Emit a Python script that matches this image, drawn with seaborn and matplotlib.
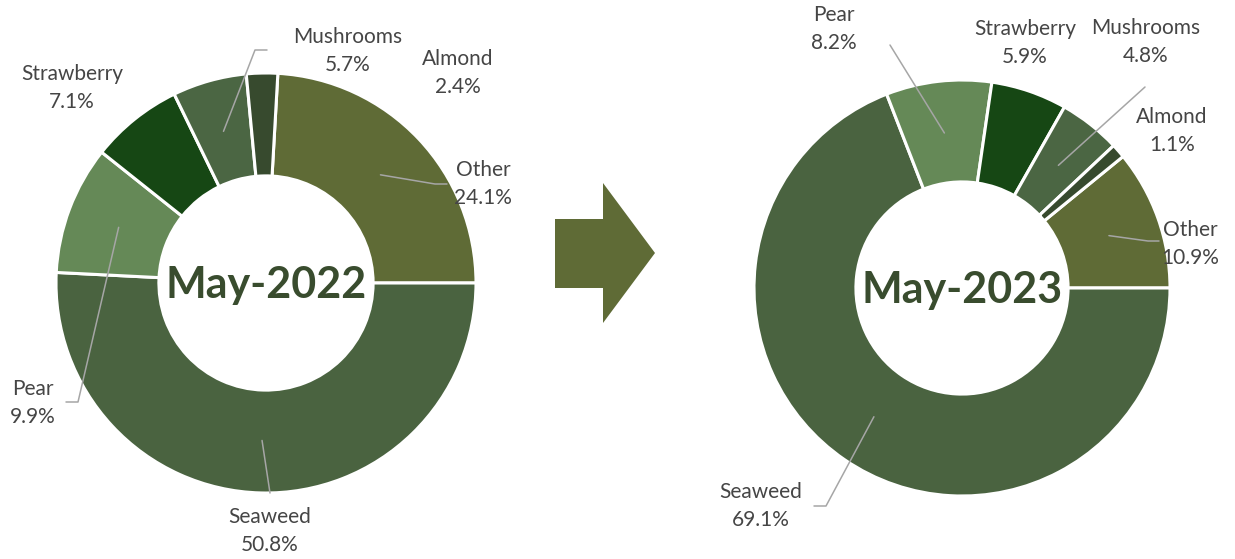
import numpy as np
import seaborn as sns
import matplotlib.pyplot as plt
from matplotlib.patches import Polygon

sns.set_theme(style="white")
plt.rcParams['font.family'] = ['Lato', 'DejaVu Sans']

# data
categories = ["Other", "Seaweed", "Pear", "Strawberry", "Mushrooms", "Almond"]
share_2022 = [24.1, 50.8, 9.9, 7.1, 5.7, 2.4]
share_2023 = [10.9, 69.1, 8.2, 5.9, 4.8, 1.1]
titles = ["May-2022", "May-2023"]

colors = ["#5F6B36", "#4A6340", "#658957", "#164714", "#4B6643", "#374A2E"]
W, H = 1235, 559


def fy(y):
    # pixel row -> data y (y up)
    return H - y


# layout of each donut: centre, radius, label spots (centre of text) and leader elbows
charts = [
    dict(vals=share_2022, cx=266, cy=283, r=210,
         labels={"Other": (483, 184), "Seaweed": (270, 531), "Pear": (33, 403),
                 "Strawberry": (72, 88), "Mushrooms": (348, 51), "Almond": (458, 73)},
         elbows={"Other": [(435, 184), (447, 184)], "Seaweed": [(270, 493)],
                 "Pear": [(78, 402), (66, 402)], "Mushrooms": [(255, 50), (267, 50)]}),
    dict(vals=share_2023, cx=962, cy=288, r=208,
         labels={"Other": (1190, 244), "Seaweed": (761, 506), "Pear": (834, 29),
                 "Strawberry": (1025, 43), "Mushrooms": (1146, 42), "Almond": (1172, 131)},
         elbows={"Other": [(1148, 241), (1159, 241)], "Seaweed": [(826, 506), (814, 506)],
                 "Pear": [(890, 45)], "Mushrooms": [(1145, 87)]}),
]

fig = plt.figure(figsize=(W / 100, H / 100), dpi=100)
ax = fig.add_axes([0, 0, 1, 1])

for ch, title in zip(charts, titles):
    vals = np.array(ch["vals"])
    # first slice ("Other") ends at 3 o'clock
    start = vals[0] / vals.sum() * 360
    wedges, _ = ax.pie(vals, colors=colors, startangle=start, counterclock=False,
                       center=(ch["cx"], fy(ch["cy"])), radius=ch["r"],
                       wedgeprops=dict(width=ch["r"] * 0.49, edgecolor="white", linewidth=2.2))
    for w, name, v in zip(wedges, categories, vals):
        tx, ty = ch["labels"][name]
        ax.text(tx, fy(ty), f"{name}\n{v:.1f}%", ha="center", va="center",
                fontsize=15, color="#454545", linespacing=1.45)
        if name in ch["elbows"]:
            mid = np.deg2rad((w.theta1 + w.theta2) / 2)
            sx = ch["cx"] + 0.75 * ch["r"] * np.cos(mid)
            sy = fy(ch["cy"]) + 0.75 * ch["r"] * np.sin(mid)
            pts = [(sx, sy)] + [(px, fy(py)) for px, py in ch["elbows"][name]]
            xs, ys = zip(*pts)
            ax.plot(xs, ys, color="#A6A6A6", lw=1.1)
    ax.text(ch["cx"], fy(ch["cy"] + 2), title, ha="center", va="center",
            fontsize=31, fontweight="bold", color="#394C2E")

# arrow between the two donuts
arrow = Polygon([(555, fy(219)), (603, fy(219)), (603, fy(183)), (655, fy(253)),
                 (603, fy(323)), (603, fy(288)), (555, fy(288))],
                closed=True, facecolor="#5F6B36", edgecolor="none")
ax.add_patch(arrow)

ax.set_xlim(0, W)
ax.set_ylim(0, H)
ax.set_aspect("equal")
ax.axis("off")

fig.savefig("out.png", dpi=100, facecolor="white")
